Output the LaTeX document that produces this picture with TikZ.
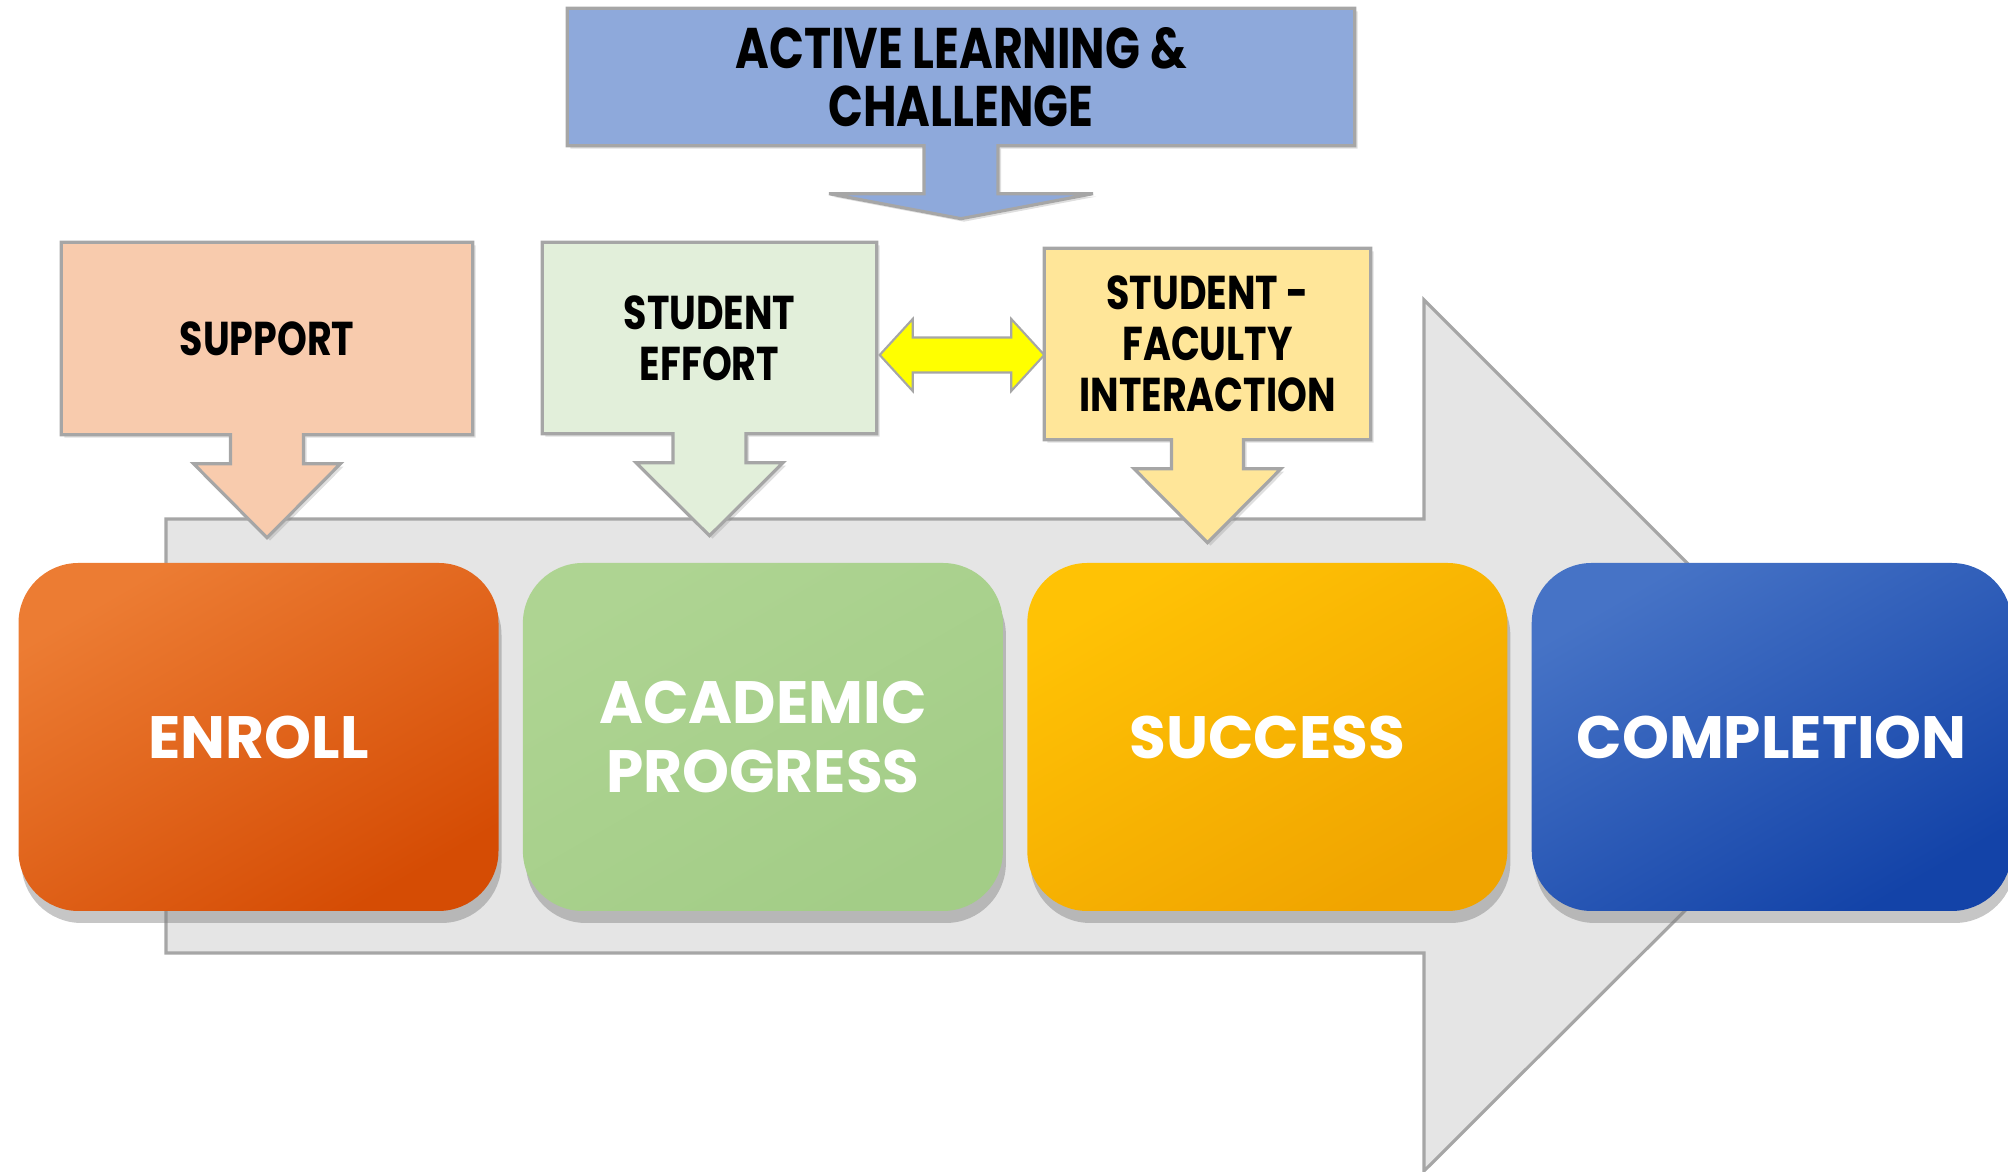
\documentclass[tikz,border=0pt]{standalone}
\usepackage{fontspec}
\setmainfont{Poppins}
\newfontfamily\narrowfont{Poppins}[FakeStretch=0.8]
\usepackage{xcolor}
\usepackage{tikz}
\usetikzlibrary{positioning, calc, shadows}

\definecolor{peach}{HTML}{F8CBAD}
\definecolor{palegreen}{HTML}{E2EFDA}
\definecolor{paleyellow}{HTML}{FFE699}
\definecolor{paleblue}{HTML}{8EA9DB}
\definecolor{linkyellow}{HTML}{FFFF00}
\definecolor{edgegray}{HTML}{A6A6A6}
\definecolor{arrowgray}{HTML}{E5E5E5}
\definecolor{enrolltop}{HTML}{EC7C33}
\definecolor{enrollbot}{HTML}{D54C04}
\definecolor{progresstop}{HTML}{AED492}
\definecolor{progressbot}{HTML}{A3CD87}
\definecolor{successtop}{HTML}{FFC205}
\definecolor{successbot}{HTML}{F0A400}
\definecolor{completiontop}{HTML}{4673C6}
\definecolor{completionbot}{HTML}{1343A8}

\pgfdeclarelayer{back}
\pgfsetlayers{back,main}

% box + stem + head drawn as one outline under the node text
\newcommand{\calloutpath}[6]{%
  \draw[calloutline, fill=#2] (#1.north west) -- (#1.north east) -- (#1.south east)
    -- ($(#1.south)+(#3,0)$) -- ($(#1.south)+(#3,-#4)$) -- ($(#1.south)+(#5,-#4)$)
    -- ($(#1.south)+(0,-#4-#6)$) -- ($(#1.south)+(-#5,-#4)$) -- ($(#1.south)+(-#3,-#4)$)
    -- ($(#1.south)+(-#3,0)$) -- (#1.south west) -- cycle;}

\begin{document}
\begin{tikzpicture}[
  node distance=0.23cm,
  calloutbox/.style={rectangle, inner sep=0pt, align=center,
             font=\narrowfont\bfseries\fontsize{13.5}{14.5}\selectfont},
  calloutline/.style={draw=edgegray, line width=0.9pt, line join=miter,
             drop shadow={shadow xshift=0.03cm, shadow yshift=-0.03cm, opacity=0.25}},
  stepbox/.style={rectangle, rounded corners=0.6cm, minimum width=4.8cm,
             minimum height=3.48cm, inner sep=0pt, align=center, text=white,
             font=\bfseries\fontsize{17}{19.6}\selectfont,
             drop shadow={shadow xshift=0.03cm, shadow yshift=-0.12cm, opacity=0.45}},
  enrollbox/.style={stepbox, top color=enrolltop, bottom color=enrollbot, shading angle=30},
  progressbox/.style={stepbox, top color=progresstop, bottom color=progressbot, shading angle=30},
  successbox/.style={stepbox, top color=successtop, bottom color=successbot, shading angle=30},
  completionbox/.style={stepbox, top color=completiontop, bottom color=completionbot, shading angle=30},
  bigarrow/.style={draw=edgegray, fill=arrowgray, line width=0.9pt, line join=miter},
  linkarrow/.style={draw=edgegray, fill=linkyellow, line width=0.6pt, line join=miter}
]
\useasboundingbox (0,0) rectangle (20.08,11.72);

% influences
\node[calloutbox, minimum width=7.86cm, minimum height=1.36cm,
      font=\narrowfont\bfseries\fontsize{16.3}{16.6}\selectfont] (active) at (9.61,10.95)
  {ACTIVE LEARNING \&\\CHALLENGE};
\node[calloutbox, minimum width=4.10cm, minimum height=1.91cm] (support) at (2.67,8.335) {SUPPORT};
\node[calloutbox, minimum width=3.33cm, minimum height=1.90cm] (effort) at (7.095,8.34)
  {STUDENT\\EFFORT};
\node[calloutbox, minimum width=3.25cm, minimum height=1.90cm] (faculty) at (12.075,8.28)
  {STUDENT -\\FACULTY\\INTERACTION};

% steps
\node[enrollbox] (enroll) at (2.585,4.35) {ENROLL};
\node[progressbox, right=of enroll] (progress) {ACADEMIC\\PROGRESS};
\node[successbox, right=of progress] (success) {SUCCESS};
\node[completionbox, right=of success] (completion) {COMPLETION};

\begin{pgfonlayer}{back}
  \draw[bigarrow] (1.66,6.53) -- (14.24,6.53) -- (14.24,8.72) -- (18.60,4.36)
    -- (14.24,0.01) -- (14.24,2.19) -- (1.66,2.19) -- cycle;
  \calloutpath{active}{paleblue}{0.37}{0.48}{1.32}{0.25}
  \calloutpath{support}{peach}{0.365}{0.29}{0.735}{0.74}
  \calloutpath{effort}{palegreen}{0.365}{0.29}{0.735}{0.73}
  \calloutpath{faculty}{paleyellow}{0.36}{0.29}{0.735}{0.74}
\end{pgfonlayer}

% two-way link between effort and interaction
\coordinate (linkl) at ($(effort.east)+(0.03,-0.17)$);
\coordinate (linkr) at (linkl -| faculty.west);
\draw[linkarrow] (linkl) -- ++(0.33,0.36) -- ++(0,-0.185) -- ($(linkr)+(-0.33,0.175)$)
  -- ++(0,0.185) -- (linkr) -- ++(-0.33,-0.36) -- ++(0,0.185)
  -- ($(linkl)+(0.33,-0.175)$) -- ++(0,-0.185) -- cycle;
\end{tikzpicture}
\end{document}
